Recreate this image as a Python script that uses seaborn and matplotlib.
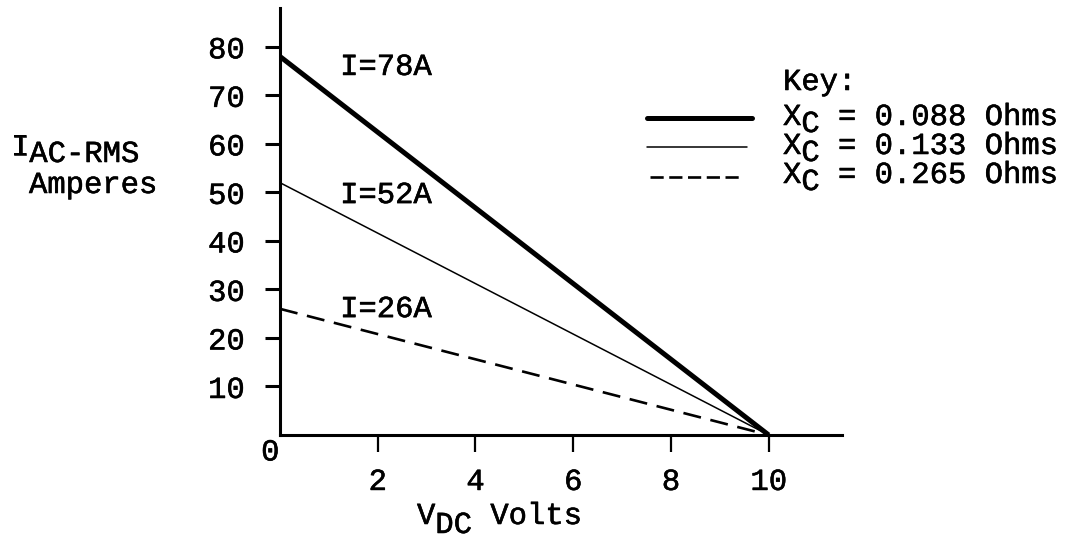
import matplotlib
matplotlib.use("Agg")
import matplotlib.pyplot as plt
import matplotlib.patheffects as pe
from matplotlib.text import Text
import pandas as pd
import seaborn as sns
from matplotlib.lines import Line2D

# --- data -------------------------------------------------------------
v_dc = [0.0, 10.0]                      # DC volts
current_088 = [78.0, 0.0]               # Xc = 0.088 ohms
current_133 = [52.0, 0.0]               # Xc = 0.133 ohms
current_265 = [26.0, 0.0]               # Xc = 0.265 ohms
reactances = ["0.088", "0.133", "0.265"]
peak_labels = ["I=78A", "I=52A", "I=26A"]
x_ticks = [2, 4, 6, 8, 10]
y_ticks = [10, 20, 30, 40, 50, 60, 70, 80]

df = pd.DataFrame({
    "v": v_dc * 3,
    "i": current_088 + current_133 + current_265,
    "xc": [r for r in reactances for _ in v_dc],
})

# --- style ------------------------------------------------------------
sns.set_theme(style="white")
plt.rcParams["font.family"] = ["Liberation Mono", "DejaVu Sans Mono"]
plt.rcParams["lines.scale_dashes"] = False
FS = 22
W, H, DPI = 1076, 550, 100
ADV = 0.6 * FS * DPI / 72.0   # monospace advance in pixels

line_styles = {
    "0.088": dict(lw=3.6, linestyle="-"),
    "0.133": dict(lw=1.1, linestyle="-"),
    "0.265": dict(lw=1.9, linestyle=(0, (13, 7))),
}

fig = plt.figure(figsize=(W / DPI, H / DPI), dpi=DPI)
fig.patch.set_facecolor("white")
ax = fig.add_axes([280 / W, 1 - 435 / H, 562 / W, 427 / H])

for xc in reactances:
    sns.lineplot(data=df[df["xc"] == xc], x="v", y="i", ax=ax,
                 color="black", solid_capstyle="butt", **line_styles[xc])

ax.set_xlim(0, 11.5)
ax.set_ylim(0, 88)
ax.set_xticks(x_ticks)
ax.set_yticks(y_ticks)
ax.set_xticklabels([str(t) for t in x_ticks], fontsize=FS)
ax.set_yticklabels([str(t) for t in y_ticks], fontsize=FS)
ax.tick_params(axis="y", direction="out", length=10.5, width=2.2, pad=15,
               colors="black", left=True)
ax.tick_params(axis="x", direction="out", length=12, width=1.6, pad=11,
               colors="black", bottom=True)
ax.set_xlabel("")
ax.set_ylabel("")
ax.grid(False)
for side in ("top", "right"):
    ax.spines[side].set_visible(False)
for side in ("left", "bottom"):
    ax.spines[side].set_linewidth(2.2)
    ax.spines[side].set_color("black")

# origin label
ax.text(-0.2, -3.6, "0", fontsize=FS, ha="center", va="center",
        color="black", clip_on=False)

# intercept annotations
for xpos, ypos, lab in zip([1.23, 1.23, 1.23], [74.2, 47.8, 24.3], peak_labels):
    ax.text(xpos, ypos, lab, fontsize=FS, ha="left", va="baseline", color="black")


def ptext(x, y, s):
    fig.text(x / W, 1 - y / H, s, fontsize=FS, ha="left", va="baseline",
             color="black")


def segmented(x, y, parts):
    """Draw text pieces side by side; dy shifts a piece down (subscript)."""
    for s, dy in parts:
        ptext(x, y + dy, s)
        x += len(s) * ADV


# axis titles with typed subscripts
segmented(11, 155, [("I", 0), ("AC-RMS", 7)])
ptext(29, 193, "Amperes")
segmented(417, 524, [("V", 0), ("DC", 9), (" Volts", 0)])

# key
ptext(783, 90, "Key:")
key_rows = [125, 154, 183]
key_lines = [(647, 752, 118), (647, 747, 147), (650, 742, 177)]
key_styles = [dict(lw=3.6, linestyle="-"),
              dict(lw=1.1, linestyle="-"),
              dict(lw=1.9, linestyle=(0, (9.5, 4)))]
for xc, yb, (x0, x1, yl), st in zip(reactances, key_rows, key_lines, key_styles):
    fig.add_artist(Line2D([x0 / W, x1 / W], [1 - yl / H, 1 - yl / H],
                          transform=fig.transFigure, color="black", **st))
    segmented(783, yb, [("X", 0), ("C", 7), (f" = {xc} Ohms", 0)])

# typewriter ink: thicken the thin monospace strokes slightly
for t in fig.findobj(Text):
    t.set_path_effects([pe.withStroke(linewidth=0.4, foreground="black")])

fig.savefig("out.png", dpi=DPI, facecolor="white")
